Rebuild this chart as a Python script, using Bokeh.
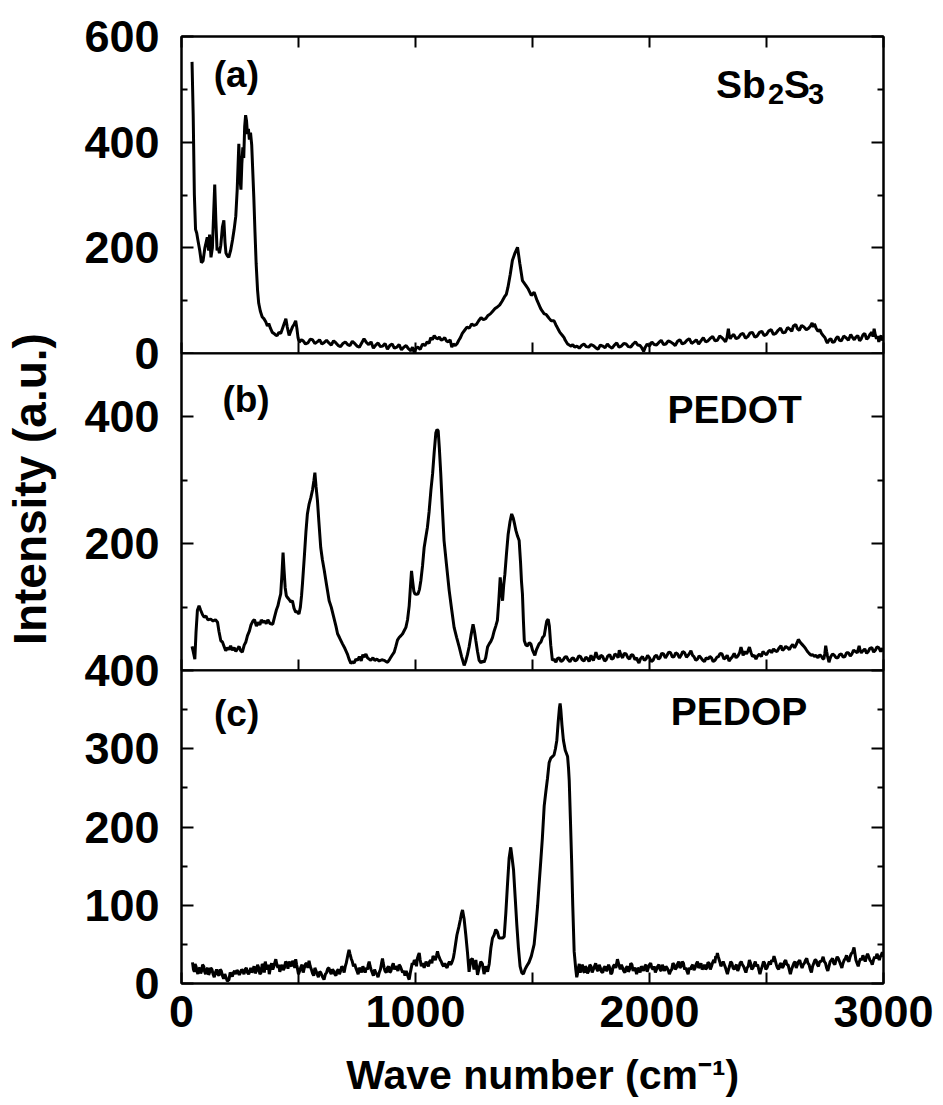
import math
from bokeh.plotting import figure
from bokeh.models import LinearAxis, FixedTicker, Range1d, Label, CustomJSTickFormatter
from bokeh.layouts import column
from bokeh.embed import file_html
from bokeh.resources import INLINE

# ---------------- data (wave number cm^-1, intensity a.u.) ----------------
sb2s3 = [
    (45, 552), (50, 450), (55, 300), (60, 235), (65, 228), (70, 215), (78, 195), (85, 172),
    (92, 175), (100, 200), (106, 212), (110, 220), (116, 195), (120, 225), (126, 182), (132, 200),
    (137, 260), (142, 320), (147, 250), (152, 195), (157, 200), (162, 190), (168, 205), (175, 240),
    (181, 252), (186, 210), (190, 190), (196, 185), (202, 182), (210, 195), (218, 215), (225, 235),
    (232, 260), (238, 310), (245, 397), (250, 330), (254, 310), (258, 360), (262, 390), (266, 370),
    (270, 430), (274, 451), (278, 440), (282, 415), (286, 425), (290, 405), (295, 418), (300, 395),
    (305, 340), (309, 296), (314, 230), (319, 170), (325, 120), (330, 95), (337, 80), (345, 69),
    (352, 66), (360, 60), (367, 52), (373, 57), (380, 48), (388, 40), (395, 38), (402, 35),
    (409, 34), (416, 40), (424, 38), (432, 48), (440, 58), (446, 66), (452, 50), (460, 34),
    (467, 42), (474, 50), (481, 55), (488, 62), (493, 48), (498, 30), (503, 21), (512, 26),
    (520, 24), (530, 18), (540, 20), (550, 27), (560, 26), (570, 19), (580, 22), (590, 26),
    (600, 18), (610, 21), (620, 25), (630, 20), (640, 16), (650, 24), (660, 20), (670, 15),
    (680, 13), (690, 19), (700, 22), (710, 17), (720, 15), (730, 23), (740, 19), (750, 14),
    (760, 12), (770, 20), (780, 28), (790, 21), (800, 17), (810, 22), (820, 10), (830, 16),
    (840, 20), (850, 13), (860, 14), (870, 19), (880, 8), (890, 15), (900, 18), (910, 10),
    (920, 12), (930, 17), (940, 7), (950, 12), (960, 15), (970, 9), (980, 5), (987, 12), (995, 2),
    (1002, 10), (1010, 12), (1020, 8), (1030, 18), (1040, 15), (1050, 22), (1058, 19), (1065, 30),
    (1072, 26), (1080, 34), (1088, 29), (1095, 28), (1102, 31), (1110, 25), (1118, 27), (1125, 30),
    (1132, 24), (1140, 22), (1148, 26), (1155, 12), (1162, 18), (1170, 15), (1178, 19), (1185, 25),
    (1192, 30), (1200, 38), (1210, 44), (1220, 50), (1230, 48), (1240, 56), (1250, 53), (1260, 55),
    (1270, 62), (1280, 68), (1290, 64), (1300, 66), (1310, 72), (1320, 75), (1330, 80), (1340, 85),
    (1350, 88), (1360, 92), (1370, 99), (1380, 107), (1388, 112), (1395, 125), (1405, 150),
    (1414, 176), (1425, 190), (1436, 201), (1446, 170), (1457, 138), (1470, 130), (1482, 122), (1495, 110),
    (1507, 116), (1520, 100), (1528, 92), (1535, 85), (1542, 80), (1550, 75), (1558, 74), (1565, 70),
    (1572, 66), (1580, 62), (1592, 62), (1600, 54), (1605, 50), (1611, 45), (1617, 40), (1628, 34),
    (1635, 30), (1640, 25), (1650, 18), (1657, 16), (1665, 14), (1672, 17), (1680, 12), (1690, 14),
    (1700, 10), (1710, 15), (1720, 18), (1730, 13), (1740, 12), (1750, 17), (1760, 15), (1770, 11),
    (1780, 8), (1790, 16), (1800, 14), (1810, 11), (1820, 18), (1830, 13), (1840, 10), (1850, 16),
    (1860, 20), (1870, 12), (1880, 14), (1890, 19), (1900, 18), (1910, 13), (1920, 12), (1930, 18),
    (1940, 22), (1950, 16), (1960, 15), (1968, 10), (1975, 4), (1982, 12), (1990, 18), (2000, 14),
    (2010, 22), (2020, 17), (2030, 16), (2040, 21), (2050, 25), (2060, 17), (2070, 18), (2080, 24),
    (2090, 22), (2100, 19), (2110, 15), (2120, 23), (2130, 26), (2140, 18), (2150, 20), (2160, 25),
    (2170, 28), (2180, 19), (2190, 22), (2200, 26), (2210, 18), (2220, 24), (2230, 30), (2240, 22),
    (2250, 24), (2260, 29), (2270, 32), (2280, 24), (2290, 25), (2300, 33), (2310, 30), (2318, 26),
    (2325, 22), (2331, 30), (2337, 47), (2341, 34), (2345, 28), (2352, 33), (2360, 36), (2370, 28),
    (2380, 30), (2390, 36), (2400, 38), (2410, 29), (2420, 32), (2430, 39), (2440, 40), (2450, 31),
    (2460, 33), (2470, 40), (2480, 42), (2490, 34), (2500, 36), (2510, 43), (2520, 45), (2530, 36),
    (2540, 38), (2550, 44), (2560, 48), (2570, 39), (2580, 40), (2590, 49), (2600, 46), (2608, 42),
    (2615, 52), (2625, 55), (2632, 47), (2640, 44), (2650, 53), (2660, 50), (2670, 45), (2680, 48),
    (2688, 52), (2695, 58), (2700, 50), (2705, 56), (2712, 48), (2720, 42), (2728, 45), (2735, 38),
    (2742, 34), (2750, 30), (2755, 24), (2760, 20), (2768, 26), (2775, 28), (2782, 21), (2790, 22),
    (2798, 29), (2805, 32), (2812, 25), (2820, 24), (2830, 33), (2840, 30), (2850, 25), (2860, 36),
    (2868, 30), (2875, 26), (2882, 31), (2890, 34), (2898, 24), (2905, 28), (2912, 35), (2920, 38),
    (2928, 27), (2935, 30), (2942, 36), (2950, 40), (2955, 32), (2960, 47), (2965, 35), (2970, 28),
    (2975, 33), (2980, 22), (2985, 30), (2990, 34), (2995, 25), (3000, 30),
]

pedot = [
    (45, 38), (50, 30), (57, 18), (62, 60), (68, 95), (75, 102), (82, 95), (90, 88), (97, 84),
    (105, 86), (112, 80), (125, 81), (135, 78), (145, 80), (154, 76), (160, 62), (168, 47), (175, 45),
    (182, 38), (189, 31), (196, 36), (203, 33), (210, 39), (217, 32), (225, 36), (232, 30), (239, 34),
    (246, 38), (253, 31), (260, 29), (268, 40), (275, 45), (282, 55), (290, 62), (297, 72), (305, 78),
    (312, 80), (320, 70), (327, 76), (335, 72), (341, 80), (348, 76), (355, 78), (362, 74), (369, 80),
    (378, 74), (390, 73), (398, 85), (405, 95), (412, 102), (418, 112), (424, 121), (429, 150), (434, 186),
    (438, 160), (443, 131), (448, 118), (453, 115), (460, 112), (467, 108), (474, 110), (481, 98), (488, 92),
    (495, 93), (502, 89), (508, 100), (513, 118), (517, 137), (525, 180), (532, 220), (538, 247), (545, 262),
    (553, 273), (560, 285), (566, 300), (570, 312), (575, 290), (581, 268), (587, 235), (595, 194), (602, 175),
    (610, 158), (620, 135), (631, 110), (640, 100), (650, 85), (660, 70), (667, 58), (675, 52), (688, 42),
    (698, 35), (709, 26), (716, 18), (724, 11), (730, 14), (738, 12), (745, 18), (752, 16), (760, 22),
    (768, 15), (775, 25), (781, 21), (788, 26), (795, 20), (802, 18), (809, 16), (818, 20), (826, 16),
    (835, 18), (845, 15), (856, 17), (866, 16), (874, 14), (881, 13), (890, 18), (900, 24), (909, 29),
    (916, 38), (923, 48), (930, 52), (938, 55), (945, 58), (952, 63), (959, 68), (966, 80), (973, 102),
    (978, 130), (983, 157), (988, 140), (993, 125), (997, 121), (1004, 120), (1011, 121), (1017, 128),
    (1023, 142), (1030, 165), (1037, 194), (1044, 210), (1051, 226), (1058, 250), (1066, 285), (1073, 310),
    (1080, 345), (1087, 375), (1092, 380), (1097, 378), (1102, 350), (1108, 310), (1115, 255), (1122, 205),
    (1133, 165), (1144, 126), (1155, 95), (1165, 68), (1176, 52), (1187, 37), (1197, 22), (1208, 8),
    (1215, 15), (1222, 25), (1229, 37), (1237, 55), (1246, 73), (1252, 62), (1258, 47), (1265, 30),
    (1272, 16), (1280, 12), (1287, 15), (1293, 13), (1300, 20), (1308, 37), (1315, 42), (1322, 46),
    (1329, 52), (1336, 62), (1343, 70), (1350, 79), (1356, 110), (1362, 147), (1367, 125), (1372, 110),
    (1377, 135), (1382, 152), (1389, 185), (1396, 215), (1404, 235), (1411, 247), (1418, 240), (1424, 230),
    (1429, 221), (1436, 212), (1443, 205), (1449, 170), (1453, 140), (1457, 121), (1461, 80), (1465, 47),
    (1472, 40), (1479, 39), (1486, 44), (1493, 42), (1500, 32), (1510, 24), (1517, 33), (1528, 42),
    (1536, 45), (1543, 52), (1550, 55), (1556, 68), (1561, 78), (1567, 81), (1572, 70), (1578, 40),
    (1585, 16), (1592, 18), (1600, 13), (1607, 19), (1615, 20), (1622, 14), (1630, 16), (1638, 21),
    (1645, 22), (1652, 17), (1660, 14), (1668, 19), (1675, 20), (1682, 15), (1690, 17), (1698, 23),
    (1705, 22), (1712, 17), (1720, 15), (1728, 21), (1735, 19), (1742, 14), (1750, 24), (1755, 19),
    (1760, 16), (1766, 22), (1771, 29), (1778, 21), (1785, 18), (1792, 24), (1800, 22), (1808, 15),
    (1815, 17), (1822, 23), (1830, 25), (1838, 18), (1845, 19), (1852, 26), (1860, 24), (1866, 20),
    (1871, 32), (1878, 24), (1885, 20), (1892, 27), (1900, 26), (1908, 20), (1915, 18), (1922, 25),
    (1930, 24), (1938, 17), (1945, 20), (1950, 15), (1955, 12), (1962, 19), (1970, 22), (1978, 16),
    (1985, 18), (1992, 24), (2000, 20), (2008, 14), (2015, 16), (2022, 22), (2030, 24), (2038, 18),
    (2045, 20), (2052, 27), (2060, 26), (2068, 20), (2075, 24), (2082, 29), (2090, 28), (2098, 21),
    (2105, 22), (2112, 28), (2120, 26), (2128, 20), (2135, 24), (2142, 30), (2150, 28), (2158, 21),
    (2165, 24), (2171, 27), (2177, 31), (2184, 24), (2190, 22), (2198, 16), (2205, 18), (2212, 23),
    (2220, 20), (2228, 16), (2235, 14), (2242, 20), (2250, 18), (2258, 22), (2265, 20), (2272, 14),
    (2280, 16), (2288, 21), (2295, 22), (2302, 27), (2310, 26), (2318, 18), (2325, 20), (2332, 24),
    (2340, 15), (2348, 19), (2355, 22), (2362, 27), (2370, 20), (2378, 23), (2385, 28), (2391, 37),
    (2396, 30), (2400, 24), (2408, 30), (2415, 26), (2421, 31), (2427, 37), (2434, 28), (2440, 22),
    (2448, 24), (2455, 18), (2462, 23), (2470, 26), (2478, 22), (2485, 30), (2492, 27), (2500, 25),
    (2508, 30), (2515, 32), (2522, 28), (2530, 34), (2538, 31), (2545, 30), (2553, 35), (2562, 39),
    (2568, 32), (2575, 34), (2582, 38), (2590, 36), (2598, 33), (2605, 38), (2612, 41), (2620, 36),
    (2626, 40), (2632, 45), (2636, 49), (2640, 47), (2645, 44), (2650, 42), (2655, 40), (2660, 38),
    (2668, 34), (2675, 30), (2682, 27), (2690, 24), (2698, 25), (2705, 22), (2712, 24), (2720, 20),
    (2728, 25), (2735, 22), (2740, 19), (2745, 18), (2749, 26), (2753, 39), (2757, 30), (2760, 24),
    (2764, 18), (2767, 13), (2771, 18), (2775, 22), (2782, 26), (2790, 24), (2798, 20), (2805, 20),
    (2812, 25), (2820, 26), (2828, 21), (2835, 22), (2842, 28), (2850, 28), (2858, 23), (2865, 26),
    (2872, 32), (2880, 30), (2888, 28), (2896, 39), (2900, 32), (2905, 28), (2912, 31), (2920, 34),
    (2928, 27), (2935, 30), (2942, 35), (2950, 36), (2958, 29), (2965, 32), (2972, 37), (2980, 36),
    (2988, 30), (2996, 35), (3000, 30),
]

pedop = [
    (47, 27), (51, 18), (55, 15), (58, 25), (62, 22), (66, 16), (70, 12), (74, 19), (78, 20),
    (82, 13), (86, 16), (90, 24), (95, 22), (99, 15), (103, 12), (108, 18), (112, 20), (116, 11),
    (120, 14), (125, 20), (130, 18), (135, 12), (140, 8), (145, 14), (150, 18), (155, 12), (160, 10),
    (165, 18), (170, 16), (175, 10), (180, 6), (185, 12), (190, 8), (196, 3), (203, 5), (208, 14),
    (212, 12), (217, 9), (222, 14), (227, 16), (232, 12), (237, 17), (242, 15), (247, 11), (252, 14),
    (257, 18), (262, 16), (267, 12), (272, 18), (277, 20), (282, 14), (287, 12), (292, 16), (296, 20),
    (300, 14), (305, 17), (310, 22), (315, 13), (320, 16), (325, 24), (330, 20), (335, 12), (340, 14),
    (345, 25), (350, 22), (354, 14), (358, 28), (362, 22), (367, 18), (371, 24), (375, 12), (380, 20),
    (385, 26), (390, 18), (395, 22), (399, 27), (403, 31), (407, 25), (412, 20), (416, 24), (420, 15),
    (425, 20), (430, 24), (435, 17), (440, 20), (445, 28), (450, 26), (455, 19), (460, 28), (465, 24),
    (470, 22), (475, 29), (480, 26), (484, 20), (488, 31), (492, 24), (495, 20), (500, 12), (505, 16),
    (510, 21), (515, 24), (520, 14), (525, 20), (530, 25), (535, 26), (540, 20), (545, 29), (550, 22),
    (555, 18), (560, 13), (565, 10), (570, 20), (575, 16), (580, 12), (585, 8), (590, 15), (595, 14),
    (602, 9), (609, 5), (615, 12), (620, 14), (625, 19), (630, 20), (635, 15), (640, 12), (645, 18),
    (650, 16), (655, 12), (660, 10), (665, 16), (670, 18), (675, 12), (680, 16), (685, 22), (690, 20),
    (695, 14), (700, 22), (704, 26), (708, 32), (712, 38), (716, 43), (720, 38), (725, 32), (730, 28),
    (735, 22), (740, 25), (745, 20), (750, 16), (755, 12), (760, 20), (765, 18), (770, 14), (775, 22),
    (780, 18), (785, 14), (790, 20), (795, 18), (798, 24), (802, 28), (806, 22), (810, 18), (815, 14),
    (820, 10), (825, 18), (830, 14), (835, 12), (840, 8), (845, 14), (850, 18), (855, 26), (859, 32),
    (862, 26), (866, 20), (870, 16), (875, 14), (880, 20), (885, 22), (890, 14), (895, 16), (900, 22),
    (905, 26), (910, 18), (916, 22), (920, 20), (925, 16), (930, 24), (935, 22), (940, 18), (945, 14),
    (950, 16), (955, 10), (960, 16), (965, 12), (969, 8), (973, 5), (978, 14), (982, 20), (986, 26),
    (990, 24), (995, 30), (1000, 28), (1004, 22), (1008, 32), (1012, 36), (1016, 39), (1020, 30),
    (1025, 22), (1030, 26), (1037, 20), (1041, 24), (1045, 28), (1050, 25), (1055, 22), (1060, 28),
    (1065, 30), (1070, 26), (1075, 35), (1080, 33), (1085, 30), (1090, 36), (1094, 41), (1098, 36),
    (1102, 33), (1106, 30), (1110, 28), (1115, 24), (1120, 22), (1125, 26), (1130, 22), (1135, 20),
    (1140, 25), (1145, 28), (1150, 24), (1154, 26), (1158, 29), (1162, 33), (1166, 40), (1172, 52),
    (1177, 62), (1185, 72), (1192, 82), (1197, 90),
    (1201, 94), (1208, 82), (1215, 62), (1222, 40), (1229, 15), (1236, 30), (1243, 32), (1250, 18),
    (1258, 30), (1265, 11), (1272, 20), (1279, 28), (1286, 25), (1293, 12), (1300, 22), (1308, 15),
    (1315, 25), (1322, 45), (1329, 58), (1336, 62), (1343, 69), (1350, 66), (1357, 58), (1364, 58),
    (1372, 58), (1379, 60), (1386, 90), (1393, 126), (1400, 160), (1407, 174), (1413, 160), (1419, 145),
    (1426, 110), (1433, 75), (1440, 45), (1447, 22), (1454, 14), (1461, 12), (1468, 18), (1475, 22),
    (1485, 27), (1495, 35), (1507, 50), (1515, 75), (1522, 100), (1528, 126), (1535, 155), (1542, 185),
    (1550, 227), (1557, 245), (1564, 262), (1571, 282), (1578, 288), (1585, 290), (1592, 292), (1598, 300),
    (1604, 311), (1610, 335), (1615, 352), (1618, 358), (1621, 350), (1626, 330), (1632, 311), (1640, 298),
    (1650, 290), (1654, 275), (1657, 259), (1662, 210), (1667, 159), (1672, 100), (1678, 41), (1685, 18),
    (1689, 8), (1692, 12), (1696, 20), (1700, 25), (1704, 14), (1708, 18), (1712, 24), (1715, 22),
    (1719, 15), (1722, 14), (1726, 22), (1730, 20), (1735, 13), (1740, 16), (1745, 24), (1750, 22),
    (1755, 14), (1760, 18), (1765, 22), (1770, 26), (1775, 18), (1780, 16), (1785, 24), (1790, 20),
    (1795, 15), (1800, 14), (1805, 20), (1810, 22), (1815, 16), (1820, 18), (1825, 24), (1830, 20),
    (1835, 12), (1840, 14), (1845, 22), (1850, 24), (1856, 20), (1863, 31), (1869, 24), (1875, 18),
    (1880, 24), (1885, 20), (1890, 16), (1895, 14), (1900, 20), (1905, 22), (1910, 15), (1915, 18),
    (1920, 26), (1925, 24), (1930, 16), (1935, 20), (1940, 18), (1945, 12), (1950, 20), (1955, 18),
    (1960, 14), (1965, 22), (1970, 20), (1975, 16), (1980, 22), (1985, 24), (1990, 15), (1995, 20),
    (2000, 24), (2005, 26), (2010, 20), (2015, 18), (2020, 22), (2025, 14), (2030, 18), (2035, 22),
    (2040, 24), (2045, 18), (2050, 16), (2055, 24), (2060, 20), (2065, 16), (2070, 22), (2075, 20),
    (2080, 17), (2085, 12), (2090, 16), (2095, 18), (2100, 26), (2105, 24), (2110, 18), (2115, 20),
    (2120, 25), (2125, 28), (2130, 20), (2135, 22), (2140, 28), (2145, 26), (2150, 18), (2155, 20),
    (2160, 16), (2165, 12), (2170, 20), (2175, 18), (2180, 22), (2185, 24), (2190, 17), (2195, 20),
    (2200, 25), (2205, 28), (2210, 20), (2215, 22), (2220, 26), (2225, 18), (2230, 20), (2235, 24),
    (2240, 18), (2245, 20), (2250, 27), (2255, 26), (2260, 18), (2265, 22), (2270, 27), (2275, 30),
    (2279, 26), (2283, 35), (2287, 33), (2290, 39), (2294, 34), (2298, 30), (2302, 26), (2305, 22),
    (2310, 25), (2315, 28), (2320, 24), (2325, 20), (2329, 16), (2333, 12), (2338, 18), (2342, 22),
    (2347, 28), (2352, 26), (2357, 20), (2362, 18), (2367, 22), (2372, 24), (2377, 16), (2382, 20),
    (2387, 26), (2392, 28), (2397, 24), (2402, 22), (2407, 18), (2412, 14), (2417, 20), (2422, 22),
    (2427, 30), (2432, 26), (2437, 18), (2442, 20), (2447, 24), (2452, 28), (2457, 22), (2462, 24),
    (2467, 18), (2472, 12), (2477, 18), (2482, 22), (2487, 28), (2492, 26), (2497, 18), (2502, 20),
    (2507, 24), (2512, 28), (2517, 24), (2522, 30), (2527, 28), (2532, 35), (2537, 30), (2542, 24),
    (2547, 20), (2552, 18), (2557, 24), (2562, 26), (2567, 20), (2572, 22), (2577, 28), (2582, 30),
    (2587, 24), (2592, 24), (2597, 18), (2602, 12), (2607, 18), (2612, 22), (2617, 26), (2622, 28),
    (2627, 20), (2632, 24), (2637, 28), (2642, 30), (2647, 24), (2652, 20), (2657, 24), (2662, 26),
    (2667, 30), (2672, 32), (2677, 26), (2682, 24), (2687, 18), (2692, 14), (2697, 22), (2702, 26),
    (2707, 30), (2712, 30), (2717, 24), (2722, 22), (2727, 28), (2732, 28), (2737, 30), (2742, 34),
    (2747, 28), (2752, 26), (2757, 20), (2762, 16), (2767, 22), (2772, 28), (2777, 30), (2782, 32),
    (2787, 26), (2792, 24), (2797, 30), (2802, 34), (2807, 32), (2812, 28), (2817, 24), (2822, 20),
    (2827, 26), (2832, 30), (2837, 32), (2842, 36), (2847, 30), (2852, 28), (2857, 34), (2862, 38),
    (2868, 40), (2874, 46), (2878, 38), (2882, 30), (2887, 26), (2892, 22), (2897, 28), (2902, 32),
    (2907, 30), (2912, 36), (2917, 32), (2922, 28), (2927, 34), (2932, 38), (2937, 34), (2942, 30),
    (2947, 28), (2952, 24), (2957, 30), (2962, 34), (2967, 32), (2972, 38), (2977, 34), (2982, 30),
    (2986, 34), (2990, 36), (2995, 40), (3000, 34),
]

x_major = [0, 1000, 2000, 3000]
x_minor = [500, 1500, 2500]
ya_major, ya_minor = [0, 200, 400, 600], [100, 300, 500]
yb_major, yb_minor = [200, 400], [100, 300]
yc_major, yc_minor = [0, 100, 200, 300, 400], [50, 150, 250, 350]

FONT = "Liberation Sans"


def make_fig(height, ymax, top, bottom, margin_top):
    p = figure(width=938, height=height, x_range=Range1d(0, 3000), y_range=Range1d(0, ymax),
               output_backend="svg", toolbar_location=None,
               x_axis_location=None, y_axis_location=None,
               min_border_left=181, min_border_right=55,
               min_border_top=top, min_border_bottom=bottom,
               margin=(margin_top, 0, 0, 0))
    p.background_fill_color = "white"
    p.border_fill_color = None
    p.outline_line_color = "black"
    p.outline_line_width = 2
    p.xgrid.visible = False
    p.ygrid.visible = False
    return p


def add_axis(p, kind, place, ticks, minor, labels):
    ax = LinearAxis()
    ax.ticker = FixedTicker(ticks=ticks, minor_ticks=minor)
    ax.axis_line_color = "black"
    ax.axis_line_width = 2
    ax.major_tick_line_color = "black"
    ax.minor_tick_line_color = "black"
    ax.major_tick_line_width = 2
    ax.minor_tick_line_width = 2
    ax.major_tick_out = 0
    ax.minor_tick_out = 0
    if kind == "x":
        ax.major_tick_in = 11
        ax.minor_tick_in = 11
    else:
        ax.major_tick_in = 12
        ax.minor_tick_in = 6
    ax.major_label_text_font = FONT
    ax.major_label_text_font_size = "45px"
    ax.major_label_text_font_style = "bold"
    ax.major_label_text_color = "black"
    ax.axis_label_text_font = FONT
    ax.axis_label_text_font_style = "bold"
    ax.axis_label_text_color = "black"
    if labels:
        ax.major_label_standoff = 12 if kind == "x" else 22
    else:
        ax.formatter = CustomJSTickFormatter(code="return ''")
        ax.major_label_standoff = 0
    p.add_layout(ax, place)
    return ax


def label(p, x, y, text, size, x_offset=0):
    p.add_layout(Label(x=x, y=y, text=text, x_offset=x_offset,
                       text_align="left", text_baseline="alphabetic",
                       text_font=FONT, text_font_size=size, text_font_style="bold",
                       text_color="black"))


# ---------------- panel (a) ----------------
pa = make_fig(383, 600, 36, 30, 0)
add_axis(pa, "y", "left", ya_major, ya_minor, True)
add_axis(pa, "y", "right", ya_major, ya_minor, False)
add_axis(pa, "x", "above", x_major, x_minor, False)
add_axis(pa, "x", "below", x_major, x_minor, False)
pa.line([d[0] for d in sb2s3], [d[1] for d in sb2s3], line_color="black", line_width=3)
label(pa, 138, 529, "(a)", "37px")
label(pa, 2284, 509, "Sb", "39px")
label(pa, 2284, 492, "2", "29px", x_offset=52)
label(pa, 2284, 509, "S", "39px", x_offset=68)
label(pa, 2284, 492, "3", "29px", x_offset=92)

# ---------------- panel (b) ----------------
pb = make_fig(497, 500, 150, 30, -180)
axb = add_axis(pb, "y", "left", yb_major, yb_minor, True)
axb.axis_label = "\u2002\u2002Intensity (a.u.)"
axb.axis_label_text_font_size = "46px"
axb.axis_label_standoff = 25
add_axis(pb, "y", "right", yb_major, yb_minor, False)
add_axis(pb, "x", "below", x_major, x_minor, False)
pb.line([d[0] for d in pedot], [d[1] for d in pedot], line_color="black", line_width=3)
label(pb, 175, 427, "(b)", "37px")
label(pb, 2077, 412, "PEDOT", "39px")

# ---------------- panel (c) ----------------
pc = make_fig(460, 400, 30, 114, -60)
add_axis(pc, "y", "left", yc_major, yc_minor, True)
add_axis(pc, "y", "right", yc_major, yc_minor, False)
axc = add_axis(pc, "x", "below", x_major, x_minor, True)
axc.axis_label = "\u2002Wave number (cm\u207b\u00b9)"
axc.axis_label_text_font_size = "41px"
axc.axis_label_standoff = 22
pc.line([d[0] for d in pedop], [d[1] for d in pedop], line_color="black", line_width=3)
label(pc, 139, 345, "(c)", "37px")
label(pc, 2091, 348, "PEDOP", "39px")

layout = column(pa, pb, pc)
open("out.html", "w").write(file_html(layout, INLINE))
